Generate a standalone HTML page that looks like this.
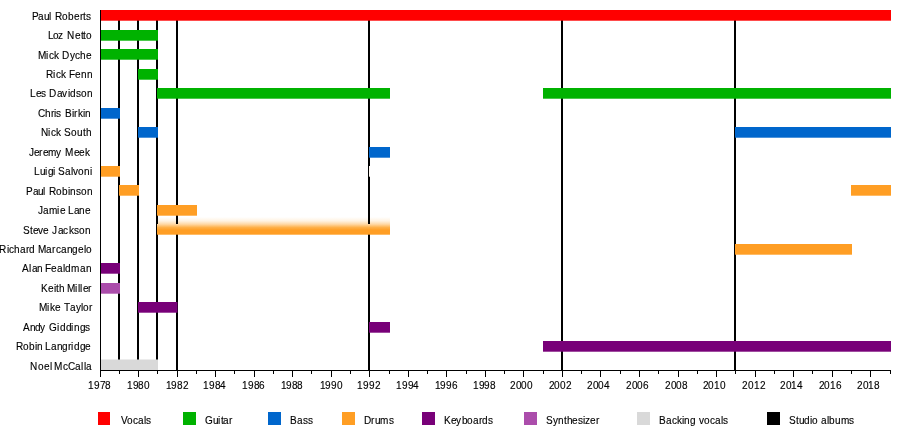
<!DOCTYPE html>
<html lang="en"><head><meta charset="utf-8"><title>Timeline</title>
<style>
html,body{margin:0;padding:0;background:#fff;}
body{width:900px;height:430px;overflow:hidden;}
svg{display:block;}
text{font-family:"Liberation Sans",sans-serif;font-size:10px;fill:#000;stroke:#000;stroke-width:0.12px;white-space:pre;}
</style></head><body>
<svg width="900" height="430" viewBox="0 0 900 430">
<rect width="900" height="430" fill="#fff"/>
<defs><linearGradient id="hz" gradientUnits="userSpaceOnUse" x1="0" y1="217" x2="0" y2="230"><stop offset="0" stop-color="#ffffff"/><stop offset="0.3" stop-color="#fff3e2"/><stop offset="0.55" stop-color="#ffd9a6"/><stop offset="0.8" stop-color="#feb14a"/><stop offset="1" stop-color="#ff9e24"/></linearGradient></defs>
<rect x="158" y="217" width="232" height="7" fill="url(#hz)"/>
<g fill="#000">
<rect x="118" y="10" width="2" height="360"/>
<rect x="137" y="10" width="2" height="360"/>
<rect x="156" y="10" width="2" height="360"/>
<rect x="176" y="10" width="2" height="360"/>
<rect x="368" y="10" width="2" height="360"/>
<rect x="561" y="10" width="2" height="360"/>
<rect x="734" y="10" width="2" height="360"/>
</g>
<g>
<rect x="100" y="10" width="791" height="10.7" fill="#ff0000"/>
<rect x="100" y="30" width="58" height="10.7" fill="#00b200"/>
<rect x="100" y="49" width="58" height="10.7" fill="#00b200"/>
<rect x="138" y="69" width="20" height="10.7" fill="#00b200"/>
<rect x="157" y="88" width="233" height="10.7" fill="#00b200"/>
<rect x="543" y="88" width="348" height="10.7" fill="#00b200"/>
<rect x="100" y="108" width="20" height="10.7" fill="#0066cc"/>
<rect x="138" y="127" width="20" height="10.7" fill="#0066cc"/>
<rect x="735" y="127" width="156" height="10.7" fill="#0066cc"/>
<rect x="369" y="147" width="21" height="10.7" fill="#0066cc"/>
<rect x="100" y="166" width="20" height="10.7" fill="#ff9e24"/>
<rect x="369" y="166" width="1" height="10.7" fill="#fffaf5"/>
<rect x="119" y="185" width="20" height="10.7" fill="#ff9e24"/>
<rect x="851" y="185" width="40" height="10.7" fill="#ff9e24"/>
<rect x="157" y="205" width="40" height="10.7" fill="#ff9e24"/>
<rect x="157" y="224" width="233" height="10.7" fill="#ff9e24"/>
<rect x="735" y="244" width="117" height="10.7" fill="#ff9e24"/>
<rect x="100" y="263" width="20" height="10.7" fill="#780078"/>
<rect x="100" y="283" width="20" height="10.7" fill="#ab4dab"/>
<rect x="138" y="302" width="39.5" height="10.7" fill="#780078"/>
<rect x="369" y="322" width="21" height="10.7" fill="#780078"/>
<rect x="543" y="341" width="348" height="10.7" fill="#780078"/>
<rect x="100" y="359.5" width="58" height="10.5" fill="#d9d9d9"/>
<rect x="157" y="224" width="233" height="6" fill="url(#hz)"/>
</g>
<g fill="#000">
<rect x="100" y="10" width="1" height="367"/>
<rect x="100" y="370" width="791" height="1"/>
<rect x="119" y="370" width="1" height="4"/>
<rect x="138" y="370" width="1" height="7"/>
<rect x="157" y="370" width="1" height="4"/>
<rect x="177" y="370" width="1" height="7"/>
<rect x="196" y="370" width="1" height="4"/>
<rect x="215" y="370" width="1" height="7"/>
<rect x="234" y="370" width="1" height="4"/>
<rect x="254" y="370" width="1" height="7"/>
<rect x="273" y="370" width="1" height="4"/>
<rect x="292" y="370" width="1" height="7"/>
<rect x="311" y="370" width="1" height="4"/>
<rect x="331" y="370" width="1" height="7"/>
<rect x="350" y="370" width="1" height="4"/>
<rect x="369" y="370" width="1" height="7"/>
<rect x="389" y="370" width="1" height="4"/>
<rect x="408" y="370" width="1" height="7"/>
<rect x="427" y="370" width="1" height="4"/>
<rect x="446" y="370" width="1" height="7"/>
<rect x="466" y="370" width="1" height="4"/>
<rect x="485" y="370" width="1" height="7"/>
<rect x="504" y="370" width="1" height="4"/>
<rect x="523" y="370" width="1" height="7"/>
<rect x="543" y="370" width="1" height="4"/>
<rect x="562" y="370" width="1" height="7"/>
<rect x="581" y="370" width="1" height="4"/>
<rect x="600" y="370" width="1" height="7"/>
<rect x="620" y="370" width="1" height="4"/>
<rect x="639" y="370" width="1" height="7"/>
<rect x="658" y="370" width="1" height="4"/>
<rect x="678" y="370" width="1" height="7"/>
<rect x="697" y="370" width="1" height="4"/>
<rect x="716" y="370" width="1" height="7"/>
<rect x="735" y="370" width="1" height="4"/>
<rect x="755" y="370" width="1" height="7"/>
<rect x="774" y="370" width="1" height="4"/>
<rect x="793" y="370" width="1" height="7"/>
<rect x="812" y="370" width="1" height="4"/>
<rect x="832" y="370" width="1" height="7"/>
<rect x="851" y="370" width="1" height="4"/>
<rect x="870" y="370" width="1" height="7"/>
<rect x="890" y="370" width="1" height="4"/>
</g>
<g>
<text x="88 94 100 105" y="389">1978</text>
<text x="127 133 138 144" y="389">1980</text>
<text x="166 171 177 183" y="389">1982</text>
<text x="203 209 215 220" y="389">1984</text>
<text x="242 248 254 259" y="389">1986</text>
<text x="281 286 292 297" y="389">1988</text>
<text x="320 325 331 337" y="389">1990</text>
<text x="357 363 369 375" y="389">1992</text>
<text x="396 402 408 413" y="389">1994</text>
<text x="435 440 446 452" y="389">1996</text>
<text x="473 479 484 490" y="389">1998</text>
<text x="510 516 521 527" y="389">2000</text>
<text x="549 554 560 566" y="389">2002</text>
<text x="587 593 598 604" y="389">2004</text>
<text x="626 632 637 643" y="389">2006</text>
<text x="665 671 676 682" y="389">2008</text>
<text x="703 708 714 720" y="389">2010</text>
<text x="742 748 754 760" y="389">2012</text>
<text x="780 786 791 797" y="389">2014</text>
<text x="819 824 830 836" y="389">2016</text>
<text x="857 863 868 874" y="389">2018</text>
</g>
<g>
<text x="32 38 44 49 52 55 62 68 74 80 83 86" y="20">Paul Roberts</text>
<text x="48 53 58 65 67 75 81 83 86" y="39">Loz Netto</text>
<text x="38 46 49 54 59 62 70 75 80 86" y="59">Mick Dyche</text>
<text x="46 53 56 61 66 69 75 81 87" y="78">Rick Fenn</text>
<text x="30 36 41 46 49 57 62 68 70 76 81 87" y="97">Les Davidson</text>
<text x="38 45 51 54 56 62 65 72 74 78 83 85" y="117">Chris Birkin</text>
<text x="41 48 51 56 61 64 71 77 83 86" y="136">Nick South</text>
<text x="29 34 39 43 48 56 62 65 74 79 85" y="156">Jeremy Meek</text>
<text x="34 40 45 48 53 55 58 65 71 73 78 84 90" y="175">Luigi Salvoni</text>
<text x="26 33 38 43 46 49 56 62 68 70 76 81 87" y="195">Paul Robinson</text>
<text x="38 43 49 57 60 65 68 74 79 85" y="214">Jamie Lane</text>
<text x="23 30 33 38 43 49 52 58 63 69 74 79 85" y="234">Steve Jackson</text>
<text x="-1 7 9 14 20 26 29 35 38 46 52 56 61 67 72 78 84 86" y="253">Richard Marcangelo</text>
<text x="22 29 32 37 42 45 51 57 63 65 71 80 86" y="272">Alan Fealdman</text>
<text x="41 48 54 56 59 64 67 75 78 80 83 88" y="292">Keith Miller</text>
<text x="39 47 50 55 61 64 70 76 81 83 89" y="311">Mike Taylor</text>
<text x="23 30 35 40 46 49 57 60 66 71 74 80 85" y="331">Andy Giddings</text>
<text x="16 23 29 35 37 42 45 51 57 62 68 71 74 80 85" y="350">Robin Langridge</text>
<text x="30 38 44 50 51 54 63 68 75 81 84 86" y="370">Noel McCalla</text>
</g>
<g>
<rect x="98" y="412" width="12" height="13" fill="#ff0000"/><text x="121 127 133 138 144 146" y="424">Vocals</text>
<rect x="183" y="412" width="13" height="13" fill="#00b200"/><text x="205 213 218 221 223 229" y="424">Guitar</text>
<rect x="268" y="412" width="13" height="13" fill="#0066cc"/><text x="290 297 303 308" y="424">Bass</text>
<rect x="342" y="412" width="13" height="13" fill="#ff9e24"/><text x="364 371 375 380 389" y="424">Drums</text>
<rect x="422" y="412" width="13" height="13" fill="#780078"/><text x="444 451 456 462 467 473 479 482 488" y="424">Keyboards</text>
<rect x="524" y="412" width="13" height="13" fill="#ab4dab"/><text x="546 553 558 564 567 572 578 583 585 590 596" y="424">Synthesizer</text>
<rect x="637" y="412" width="13" height="13" fill="#d9d9d9"/><text x="659 666 672 677 682 684 690 696 699 704 710 715 721 723" y="424">Backing vocals</text>
<rect x="767" y="412" width="13" height="13" fill="#000"/><text x="789 796 799 804 810 812 818 821 827 829 835 841 849" y="424">Studio albums</text>
</g>
</svg>
</body></html>
